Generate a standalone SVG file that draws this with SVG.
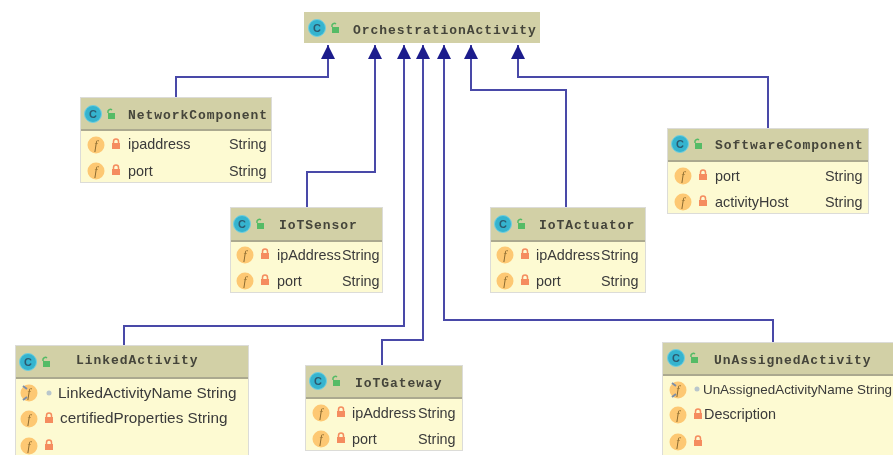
<svg xmlns="http://www.w3.org/2000/svg" xmlns:xlink="http://www.w3.org/1999/xlink" width="893" height="455" viewBox="0 0 893 455">
<style>
.box{fill:#fdfad2;stroke:#dcdcd8;stroke-width:1}
.hdr{fill:#d2d0a6}
.sep{stroke:#8f8e78;stroke-width:1.5}
.title{font-family:"Liberation Mono","DejaVu Sans Mono",monospace;font-size:13px;font-weight:bold;letter-spacing:.95px;fill:#44443a}
.attr{font-family:"Liberation Sans",Arial,sans-serif;font-size:14.4px;fill:#3a3a3a}
.big{font-size:15.3px}
.tight{font-size:13.4px}
.ci{font-family:"Liberation Sans",Arial,sans-serif;font-size:11px;font-weight:bold;fill:#2c5a70;text-anchor:middle}
.fi{font-family:"Liberation Serif",serif;font-style:italic;font-size:12px;fill:#8a6a30;text-anchor:middle}
.cc{fill:#35b4cf;stroke:#6fcfe0;stroke-width:1}
.fc{fill:#fdc873}
.lock{fill:#f58c5e}
.glock{fill:#55bb66}
.dot{fill:#b9c6cc}
.link{fill:none;stroke:#4a4aa8;stroke-width:2}
.head{fill:#1a1a8c}
</style>
<defs>
<marker id="tri" markerUnits="userSpaceOnUse" markerWidth="15" markerHeight="15" refX="14" refY="7" orient="auto"><path class="head" d="M0 0L14 7L0 14Z"/></marker>
<filter id="soft" x="0" y="0" width="100%" height="100%"><feGaussianBlur stdDeviation="0.6"/></filter>
<g id="cicon"><circle class="cc" r="8.500"/><text class="ci" y="4">C</text><path class="glock" d="M15 -1h7v6h-7z"/><path d="M15 -1v-2a2.500 2.500 0 0 1 4 -1" fill="none" stroke="#55bb66" stroke-width="1.500"/></g>
<g id="ficon"><circle class="fc" r="8.500"/><text class="fi" y="4">f</text><path class="lock" d="M16 -2h8v6h-8z"/><path d="M17.500 -2v-1.500a2.500 2.500 0 0 1 5 0v1.500" fill="none" stroke="#f58c5e" stroke-width="1.500"/></g>
<g id="ficonb"><circle class="fc" r="8.500"/><text class="fi" y="4">f</text><path d="M-6 -7l4 3M-6 7l4 -3" stroke="#7d8fa8" stroke-width="2"/></g>
</defs>
<rect width="893" height="455" fill="#ffffff"/>
<g filter="url(#soft)">
<g id="connectors">
<path class="link" marker-end="url(#tri)" d="M176 97V77H328V45"/>
<path class="link" marker-end="url(#tri)" d="M307 207V172H375V45"/>
<path class="link" marker-end="url(#tri)" d="M124 345V326H404V45"/>
<path class="link" marker-end="url(#tri)" d="M382 365V340H423V45"/>
<path class="link" marker-end="url(#tri)" d="M773 342V320H444V45"/>
<path class="link" marker-end="url(#tri)" d="M566 207V90H471V45"/>
<path class="link" marker-end="url(#tri)" d="M768 128V77H518V45"/>
</g>
<g id="OrchestrationActivity">
<rect class="hdr" x="304" y="12" width="236" height="31"/>
<use xlink:href="#cicon" x="317" y="28"/>
<text class="title" x="353" y="34">OrchestrationActivity</text>
</g>
<g id="NetworkComponent">
<rect class="box" x="80.500" y="97.500" width="191" height="85"/>
<rect class="hdr" x="81" y="98" width="190" height="31"/>
<line class="sep" x1="81" y1="130" x2="271" y2="130"/>
<use xlink:href="#cicon" x="93" y="114"/>
<text class="title" x="128" y="119">NetworkComponent</text>
<use xlink:href="#ficon" x="96" y="145"/>
<text class="attr" x="128" y="149">ipaddress</text><text class="attr" x="229" y="149">String</text>
<use xlink:href="#ficon" x="96" y="171"/>
<text class="attr" x="128" y="176">port</text><text class="attr" x="229" y="176">String</text>
</g>
<g id="IoTSensor">
<rect class="box" x="230.500" y="207.500" width="152" height="85"/>
<rect class="hdr" x="231" y="208" width="151" height="32"/>
<line class="sep" x1="231" y1="241" x2="382" y2="241"/>
<use xlink:href="#cicon" x="242" y="224"/>
<text class="title" x="279" y="229">IoTSensor</text>
<use xlink:href="#ficon" x="245" y="255"/>
<text class="attr" x="277" y="260">ipAddress</text><text class="attr" x="342" y="260">String</text>
<use xlink:href="#ficon" x="245" y="281"/>
<text class="attr" x="277" y="286">port</text><text class="attr" x="342" y="286">String</text>
</g>
<g id="IoTActuator">
<rect class="box" x="490.500" y="207.500" width="155" height="85"/>
<rect class="hdr" x="491" y="208" width="154" height="32"/>
<line class="sep" x1="491" y1="241" x2="645" y2="241"/>
<use xlink:href="#cicon" x="503" y="224"/>
<text class="title" x="539" y="229">IoTActuator</text>
<use xlink:href="#ficon" x="505" y="255"/>
<text class="attr" x="536" y="260">ipAddress</text><text class="attr" x="601" y="260">String</text>
<use xlink:href="#ficon" x="505" y="281"/>
<text class="attr" x="536" y="286">port</text><text class="attr" x="601" y="286">String</text>
</g>
<g id="SoftwareComponent">
<rect class="box" x="667.500" y="128.500" width="201" height="85"/>
<rect class="hdr" x="668" y="129" width="200" height="31"/>
<line class="sep" x1="668" y1="161" x2="868" y2="161"/>
<use xlink:href="#cicon" x="680" y="144"/>
<text class="title" x="715" y="149">SoftwareComponent</text>
<use xlink:href="#ficon" x="683" y="176"/>
<text class="attr" x="715" y="181">port</text><text class="attr" x="825" y="181">String</text>
<use xlink:href="#ficon" x="683" y="202"/>
<text class="attr" x="715" y="207">activityHost</text><text class="attr" x="825" y="207">String</text>
</g>
<g id="LinkedActivity">
<rect class="box" x="15.500" y="345.500" width="233" height="115"/>
<rect class="hdr" x="16" y="346" width="232" height="31"/>
<line class="sep" x1="16" y1="378" x2="248" y2="378"/>
<use xlink:href="#cicon" x="28" y="362"/>
<text class="title" x="76" y="364">LinkedActivity</text>
<use xlink:href="#ficonb" x="29" y="393"/><circle class="dot" cx="49" cy="393" r="2.500"/>
<text class="attr big" x="58" y="398">LinkedActivityName String</text>
<use xlink:href="#ficon" x="29" y="419"/>
<text class="attr big" x="60" y="423">certifiedProperties String</text>
<use xlink:href="#ficon" x="29" y="446"/>
</g>
<g id="IoTGateway">
<rect class="box" x="305.500" y="365.500" width="157" height="85"/>
<rect class="hdr" x="306" y="366" width="156" height="31"/>
<line class="sep" x1="306" y1="398" x2="462" y2="398"/>
<use xlink:href="#cicon" x="318" y="381"/>
<text class="title" x="355" y="387">IoTGateway</text>
<use xlink:href="#ficon" x="321" y="413"/>
<text class="attr" x="352" y="418">ipAddress</text><text class="attr" x="418" y="418">String</text>
<use xlink:href="#ficon" x="321" y="439"/>
<text class="attr" x="352" y="444">port</text><text class="attr" x="418" y="444">String</text>
</g>
<g id="UnAssignedActivity">
<rect class="box" x="662.500" y="342.500" width="240" height="118"/>
<rect class="hdr" x="663" y="343" width="240" height="31"/>
<line class="sep" x1="663" y1="375" x2="893" y2="375"/>
<use xlink:href="#cicon" x="676" y="358"/>
<text class="title" x="714" y="364" letter-spacing=".5">UnAssignedActivity</text>
<use xlink:href="#ficonb" x="678" y="390"/><circle class="dot" cx="697" cy="389" r="2.500"/>
<text class="attr tight" x="703" y="394">UnAssignedActivityName String</text>
<use xlink:href="#ficon" x="678" y="415"/>
<text class="attr" x="704" y="419">Description</text>
<use xlink:href="#ficon" x="678" y="442"/>
</g>
</g>
</svg>
